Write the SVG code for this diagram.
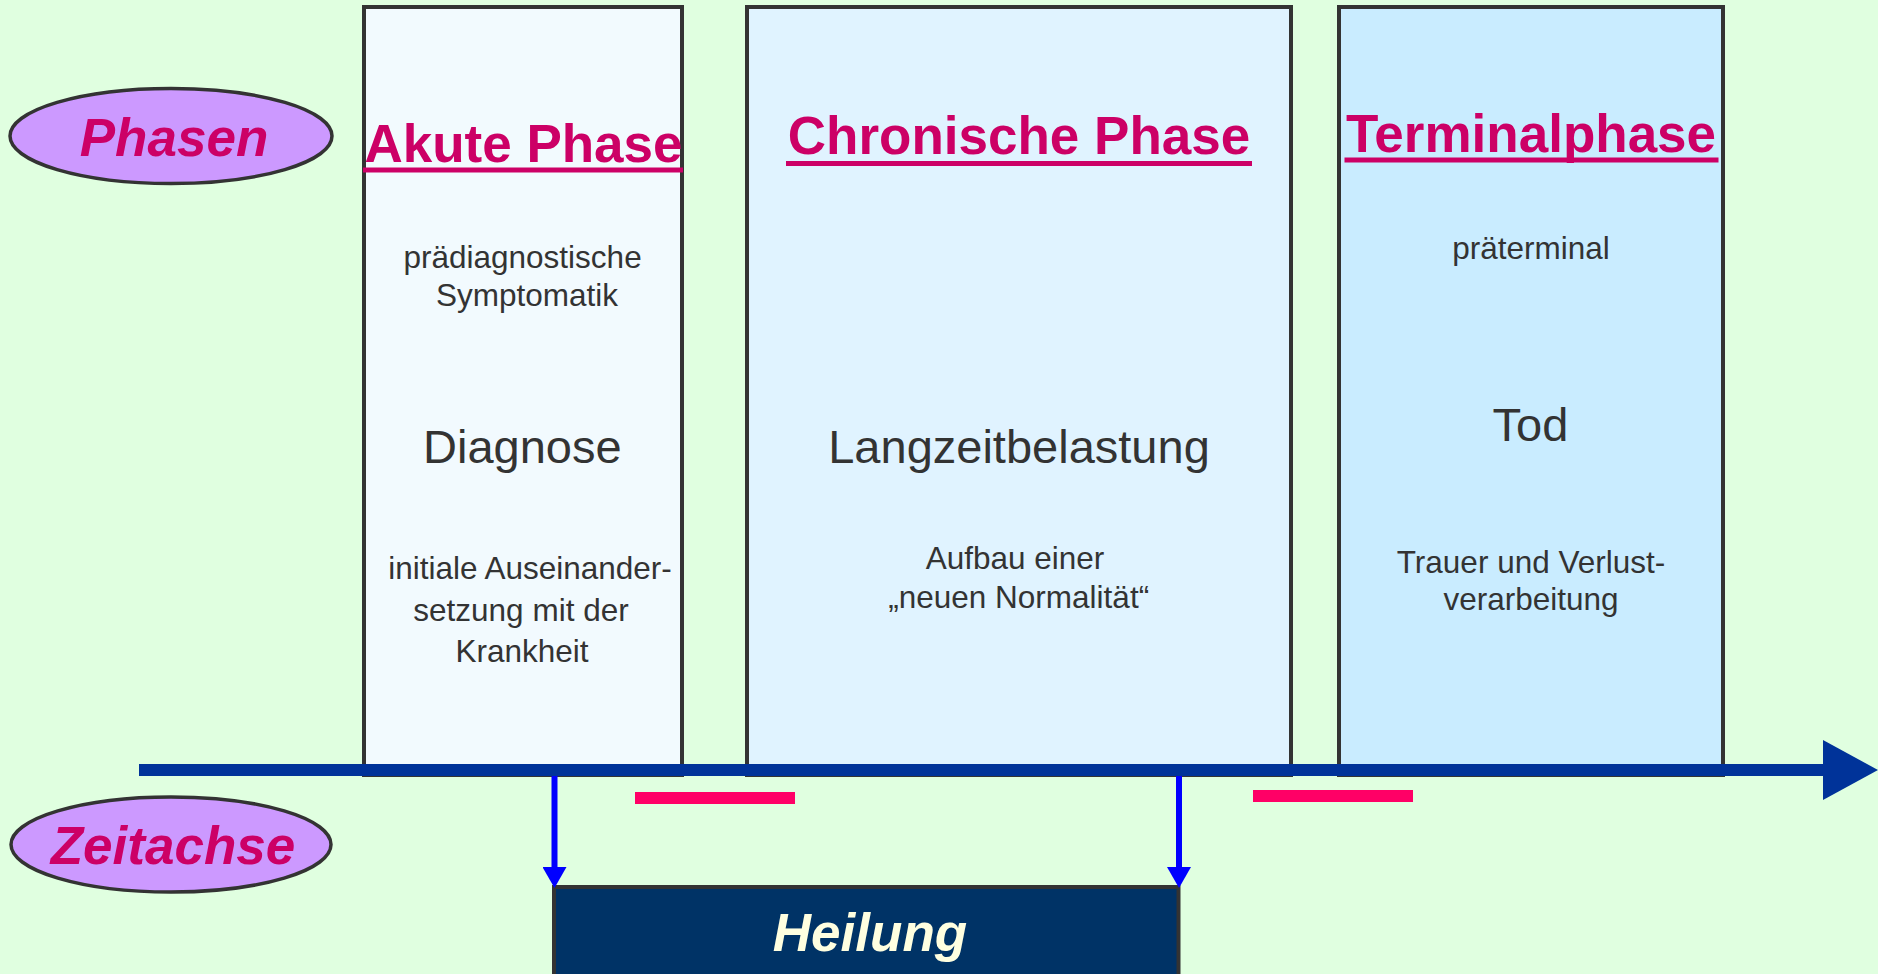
<svg xmlns="http://www.w3.org/2000/svg" width="1878" height="974" viewBox="0 0 1878 974">
  <style>
    .box { stroke: #333333; stroke-width: 4; }
    .oval { fill: #CC99FF; stroke: #333333; stroke-width: 3.5; }
    .title { font-family: "Liberation Sans", Arial, sans-serif; font-weight: bold; font-size: 53px; fill: #CC0066; text-anchor: middle; }
    .label { font-family: "Liberation Sans", Arial, sans-serif; font-weight: bold; font-style: italic; font-size: 53px; fill: #CC0066; text-anchor: middle; }
    .ul { fill: #CC0066; }
    .small { font-family: "Liberation Sans", Arial, sans-serif; font-size: 31.5px; fill: #333333; text-anchor: middle; }
    .big { font-family: "Liberation Sans", Arial, sans-serif; font-size: 47px; fill: #333333; text-anchor: middle; }
    .axis { stroke: #003399; stroke-width: 12; fill: none; }
    .down { stroke: #0000FF; stroke-width: 6; fill: none; }
    .bar { fill: #FF0066; }
  </style>
  <defs>
    <marker id="axisHead" markerUnits="userSpaceOnUse" markerWidth="56" markerHeight="60" refX="0" refY="30" orient="auto">
      <path d="M0,0 L55,30 L0,60 z" fill="#003399"/>
    </marker>
    <marker id="blueHead" markerUnits="userSpaceOnUse" markerWidth="22" markerHeight="24" refX="0" refY="12" orient="auto">
      <path d="M0,0 L21,12 L0,24 z" fill="#0000FF"/>
    </marker>
  </defs>

  <rect x="0" y="0" width="1878" height="974" fill="#E0FFE0"/>

  <g id="akute-phase">
    <rect class="box" x="364" y="7" width="318" height="768" fill="#F2FAFE"/>
    <text class="title" x="523.5" y="161.5">Akute Phase</text>
    <rect class="ul" x="363" y="167.5" width="320" height="5"/>
    <text class="small" x="522.6" y="268">prädiagnostische</text>
    <text class="small" x="527" y="306">Symptomatik</text>
    <text class="big" x="522.3" y="463">Diagnose</text>
    <text class="small" x="530" y="578.5">initiale Auseinander-</text>
    <text class="small" x="521" y="621">setzung mit der</text>
    <text class="small" x="522" y="661.5">Krankheit</text>
  </g>

  <g id="chronische-phase">
    <rect class="box" x="747" y="7" width="544" height="768" fill="#E0F3FF"/>
    <text class="title" x="1019" y="154">Chronische Phase</text>
    <rect class="ul" x="786" y="161" width="466" height="5"/>
    <text class="big" x="1019" y="463">Langzeitbelastung</text>
    <text class="small" x="1015" y="569">Aufbau einer</text>
    <text class="small" x="1018.7" y="608">„neuen Normalität“</text>
  </g>

  <g id="terminalphase">
    <rect class="box" x="1339" y="7" width="384" height="768" fill="#C9ECFF"/>
    <text class="title" x="1531" y="152">Terminalphase</text>
    <rect class="ul" x="1344.5" y="157.5" width="374" height="5"/>
    <text class="small" x="1531" y="259">präterminal</text>
    <text class="big" x="1530.5" y="441">Tod</text>
    <text class="small" x="1531" y="573">Trauer und Verlust-</text>
    <text class="small" x="1531" y="609.5">verarbeitung</text>
  </g>

  <g id="phasen">
    <ellipse class="oval" cx="171" cy="136" rx="161" ry="47.5"/>
    <text class="label" x="174" y="156">Phasen</text>
  </g>

  <g id="zeitachse">
    <ellipse class="oval" cx="171" cy="844.5" rx="160" ry="47.5"/>
    <text class="label" x="173" y="864.3">Zeitachse</text>
  </g>

  <g id="heilung">
    <rect x="554" y="887" width="624.5" height="110" fill="#003366" stroke="#333333" stroke-width="4"/>
    <text x="870" y="950.7" font-family="'Liberation Sans', Arial, sans-serif" font-weight="bold" font-style="italic" font-size="53" fill="#FFFFE0" text-anchor="middle">Heilung</text>
  </g>

  <g id="markers">
    <rect class="bar" x="635" y="792" width="160" height="12"/>
    <rect class="bar" x="1253" y="790" width="160" height="12"/>
  </g>

  <g id="connectors">
    <line class="axis" x1="139" y1="770" x2="1823" y2="770" marker-end="url(#axisHead)"/>
    <line class="down" x1="554.5" y1="776" x2="554.5" y2="867" marker-end="url(#blueHead)"/>
    <line class="down" x1="1179" y1="776" x2="1179" y2="867" marker-end="url(#blueHead)"/>
  </g>
</svg>
